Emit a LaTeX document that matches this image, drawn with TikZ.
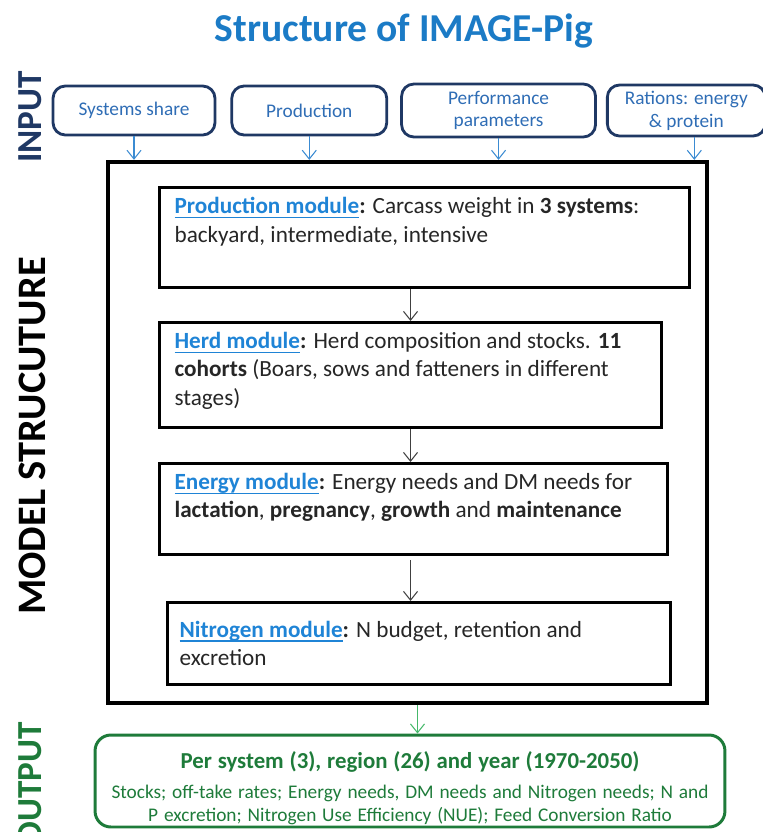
\documentclass[tikz,border=0pt]{standalone}
\usepackage{fontspec}
\setmainfont{Carlito}
\usepackage{xcolor}
\usetikzlibrary{positioning,arrows.meta}

\definecolor{titleblue}{HTML}{1B7BC6}
\definecolor{linkblue}{HTML}{1F84D6}
\definecolor{navy}{HTML}{1F3864}
\definecolor{inblue}{HTML}{2F6DB5}
\definecolor{arrowblue}{HTML}{3B8BD2}
\definecolor{outgreen}{HTML}{1E7B3A}
\definecolor{lightgreen}{HTML}{45B86A}
\definecolor{modtext}{HTML}{262626}

% blue underlined module name
\newcommand{\modlink}[1]{\textcolor{linkblue}{\setbox0\hbox{\bfseries #1}\rlap{\rule[-2.3pt]{\wd0}{0.7pt}}\box0}}

\begin{document}
\begin{tikzpicture}[x=0.02cm,y=-0.02cm,
inbox/.style={
rectangle,draw=navy,line width=1.6pt,rounded corners=7pt,
align=center,text=inblue,
font=\fontsize{11}{13}\selectfont,
minimum height=0.98cm
},
module/.style={
rectangle,draw,line width=1.8pt,anchor=north west,
inner xsep=0.3cm,inner ysep=0.2cm,
text=modtext,font=\fontsize{13.2}{16}\selectfont
},
sidelabel/.style={rotate=90,font=\bfseries\fontsize{20}{24}\selectfont},
inarrow/.style={-{Straight Barb[length=5pt,width=8pt]},arrowblue,line width=0.6pt},
arrow/.style={-{Straight Barb[length=5pt,width=8pt]},black!75,line width=0.6pt}
]
\useasboundingbox (0,0) rectangle (763,832);

\node[font=\bfseries\fontsize{22.5}{27}\selectfont,text=titleblue] (title) at (404,31) {Structure of IMAGE-Pig};

% inputs
\node[inbox,minimum width=3.24cm] (share) at (134,110.5) {Systems share};
\node[inbox,minimum width=3.1cm,right=0.28cm of share] (prodin) {Production};
\node[inbox,minimum width=3.88cm,minimum height=1.06cm,right=0.24cm of prodin] (perf) {Performance\\parameters};
\node[inbox,minimum width=3.16cm,right=0.18cm of perf] (rations) {Rations: energy\\\& protein};

% model structure
\node[rectangle,draw,line width=2.5pt,minimum width=11.98cm,minimum height=10.82cm] (frame) at (407.5,432.5) {};

\node[module] (prodmod) at (158,186) {\parbox[t][1.6cm][t]{10cm}{%
\modlink{Production module}\textbf{:} Carcass weight in \textbf{3 systems}:\\
backyard, intermediate, intensive}};
\node[module] (herdmod) at (158,321) {\parbox[t][1.7cm][t]{9.44cm}{%
\modlink{Herd module}\textbf{:} Herd composition and stocks. \textbf{11}\\
\textbf{cohorts} (Boars, sows and fatteners in different\\
stages)}};
\node[module] (energymod) at (158,462) {\parbox[t][1.42cm][t]{9.56cm}{%
\modlink{Energy module}\textbf{:} Energy needs and DM needs for\\
\textbf{lactation}, \textbf{pregnancy}, \textbf{growth} and \textbf{maintenance}}};
\node[module,inner xsep=0.24cm] (nitromod) at (166,601) {\parbox[t][1.24cm][c]{9.58cm}{%
\modlink{Nitrogen module}\textbf{:} N budget, retention and\\
excretion}};

% output
\node[rectangle,draw=outgreen,line width=1.7pt,rounded corners=9pt,inner ysep=0pt,
minimum width=12.6cm,minimum height=1.84cm,text width=12.2cm,align=center,text=outgreen] (out) at (410,781)
{\vspace*{5pt}{\bfseries\fontsize{13}{16}\selectfont Per system (3), region (26) and year (1970-2050)\par}
\vspace*{-1pt}
{\fontsize{11}{13.2}\selectfont Stocks; off-take rates; Energy needs, DM needs and Nitrogen needs; N and\\
P excretion; Nitrogen Use Efficiency (NUE); Feed Conversion Ratio\par}
\vspace*{-8pt}};

% side labels
\node[sidelabel,text=navy] (inlabel) at (30,117) {INPUT};
\node[sidelabel,font=\bfseries\fontsize{23}{27}\selectfont] (modlabel) at (32,436) {MODEL STRUCUTURE};
\node[sidelabel,text=outgreen,anchor=east] (outlabel) at (30,716) {OUTPUT};

\draw[inarrow] (share.south) -- (share.south |- frame.north);
\draw[inarrow] (prodin.south) -- (prodin.south |- frame.north);
\draw[inarrow] (perf.south) -- (perf.south |- frame.north);
\draw[inarrow] ([xshift=0.16cm]rations.south) -- ([xshift=0.16cm]rations.south |- frame.north);

\draw[arrow] (herdmod.north |- prodmod.south) -- (herdmod.north);
\draw[arrow] (herdmod.south) -- (herdmod.south |- energymod.north);
\draw[arrow] ([yshift=-0.08cm]herdmod.south |- energymod.south) -- (herdmod.south |- nitromod.north);

\draw[-{Straight Barb[length=5pt,width=8pt]},lightgreen,line width=0.6pt] ([xshift=0.2cm]frame.south) -- ([xshift=0.2cm]frame.south |- out.north);

\end{tikzpicture}
\end{document}
